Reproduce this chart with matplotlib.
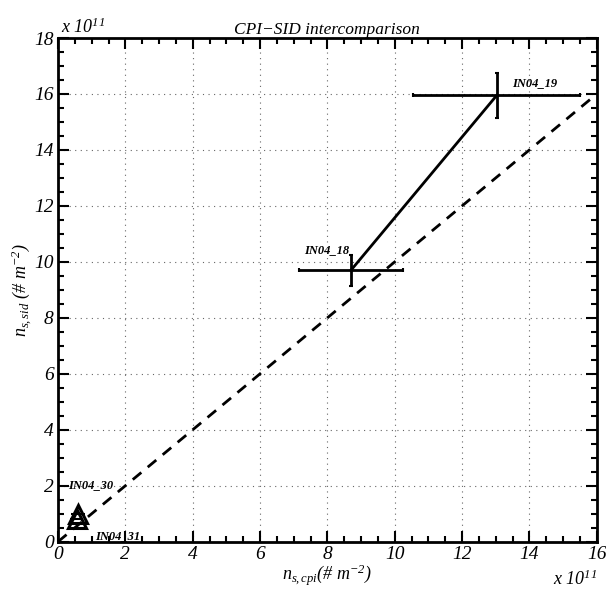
import matplotlib
matplotlib.use("Agg")
import matplotlib.pyplot as plt
from matplotlib.ticker import MultipleLocator

plt.rcParams['font.family'] = ['Liberation Serif', 'DejaVu Serif']
plt.rcParams['mathtext.fontset'] = 'custom'
plt.rcParams['mathtext.rm'] = 'Liberation Serif:italic'
plt.rcParams['mathtext.it'] = 'Liberation Serif:italic'

# values in units of 1e11 # m^-2
cases = ['IN04_18', 'IN04_19']
cpi = [8.7, 13.03]
sid = [9.7, 15.95]
cpi_err = [1.55, 2.48]
sid_err = [0.55, 0.8]

low_cases = ['IN04_30', 'IN04_31']
low_cpi = [0.6, 0.55]
low_sid = [1.0, 0.8]
low_cpi_err = [0.2, 0.2]

oneone = [0, 16]

fig = plt.figure(figsize=(6.06, 5.94), dpi=100)
ax = fig.add_axes([0.0957, 0.088, 0.889, 0.848])

ax.plot(oneone, oneone, 'k--', lw=2, dashes=(4, 3))
ax.errorbar(cpi, sid, xerr=cpi_err, yerr=sid_err, color='k', lw=2,
            elinewidth=2, capsize=1.5, capthick=1.5)
ax.errorbar(low_cpi, low_sid, xerr=low_cpi_err, fmt='^', color='k',
            mfc='none', mec='k', mew=2.2, ms=13, elinewidth=1.5, lw=0)

lab = dict(fontsize=9, fontweight='bold', style='italic')
ax.text(7.3, 10.3, cases[0], **lab)
ax.text(13.5, 16.3, cases[1], **lab)
ax.text(0.3, 1.9, low_cases[0], **lab)
ax.text(1.1, 0.1, low_cases[1], **lab)

ax.set_xlim(0, 16)
ax.set_ylim(0, 18)
ax.xaxis.set_major_locator(MultipleLocator(2))
ax.yaxis.set_major_locator(MultipleLocator(2))
ax.xaxis.set_minor_locator(MultipleLocator(0.5))
ax.yaxis.set_minor_locator(MultipleLocator(0.5))
ax.tick_params(which='both', direction='in', top=True, right=True,
               labelsize=14, width=1.5)
ax.tick_params(which='major', length=8, pad=3)
ax.tick_params(which='minor', length=4)
for lbl in ax.get_xticklabels() + ax.get_yticklabels():
    lbl.set_style('italic')
for sp in ax.spines.values():
    sp.set_linewidth(2)
ax.grid(True, which='major', color='0.4', lw=0.8, ls=(0, (1, 4)))

ax.set_xlabel(r'$n_{s,cpi}$' + '(# m$^{-2}$)', fontsize=13, style='italic', labelpad=0)
ax.set_ylabel(r'$n_{s,sid}$' + ' (# m$^{-2}$)', fontsize=13, style='italic', labelpad=0)
ax.set_title('CPI\u2212SID intercomparison', fontsize=12.5, style='italic', pad=3)

ax.text(0.005, 1.003, r'x 10$^{11}$', transform=ax.transAxes, fontsize=13,
        style='italic', va='bottom', ha='left')
ax.text(1.0, -0.055, r'x 10$^{11}$', transform=ax.transAxes, fontsize=13,
        style='italic', va='top', ha='right')

fig.savefig('out.png', dpi=100)
